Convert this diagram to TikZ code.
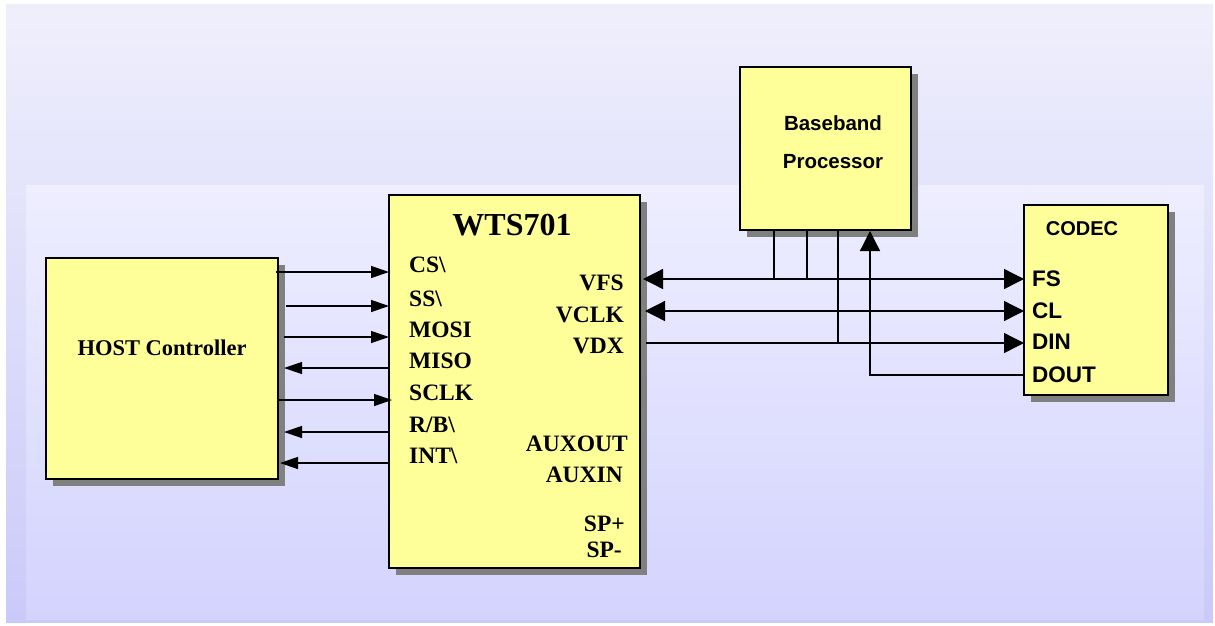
\documentclass[tikz,border=0pt]{standalone}
\usepackage{fontspec}
\setmainfont{Liberation Serif}
\setsansfont{Liberation Sans}
\usetikzlibrary{arrows.meta,shadows}
\definecolor{boxfill}{HTML}{FFFF99}
\definecolor{shadowgray}{HTML}{808080}
\definecolor{bgtop}{HTML}{EFEFFC}
\definecolor{bgbot}{HTML}{CACAFA}
\definecolor{intop}{HTML}{EEEEFF}
\definecolor{inbot}{HTML}{D3D3FE}
\begin{document}
\begin{tikzpicture}[x=1pt,y=-1pt,
  blk/.style={draw=black, line width=2pt, fill=boxfill, inner sep=0pt, outer sep=0pt,
    general shadow={fill=shadowgray, draw=none, shadow xshift=7pt, shadow yshift=-7pt}},
  pinl/.style={anchor=base west, inner sep=0pt, font=\fontsize{23.5}{24}\selectfont\bfseries},
  pinr/.style={anchor=base east, inner sep=0pt, font=\fontsize{23.5}{24}\selectfont\bfseries},
  ttl/.style={anchor=base, inner sep=0pt, font=\fontsize{32}{34}\selectfont\bfseries},
  hostlbl/.style={anchor=base, inner sep=0pt, font=\fontsize{22.5}{24}\selectfont\bfseries},
  sanslbl/.style={anchor=base, inner sep=0pt, font=\sffamily\fontsize{20.5}{22}\selectfont\bfseries},
  codecttl/.style={anchor=base, inner sep=0pt, font=\sffamily\fontsize{20}{22}\selectfont\bfseries},
  codecpin/.style={anchor=base west, inner sep=0pt, font=\sffamily\fontsize{22.5}{24}\selectfont\bfseries},
  ln/.style={line width=1.3pt, draw=black},
  harr/.style={ln, -{Triangle[length=18pt,width=12pt]}},
  barr/.style={ln, -{Triangle[length=20pt,width=20pt]}},
  dbarr/.style={ln, {Triangle[length=20pt,width=20pt]}-{Triangle[length=20pt,width=20pt]}}
]
\useasboundingbox (0,0) rectangle (1215,625);
% backgrounds
\shade[top color=bgtop, bottom color=bgbot] (6,4) rectangle (1213,622);
\shade[top color=intop, bottom color=inbot] (26,185) rectangle (1204,619);

% blocks
\node[blk, minimum width=232pt, minimum height=221pt] (host) at (162,368.5) {};
\node[blk, minimum width=251pt, minimum height=373pt] (wts) at (514.5,381.5) {};
\node[blk, minimum width=171pt, minimum height=163pt] (bb) at (825.5,148.5) {};
\node[blk, minimum width=144pt, minimum height=190pt] (codec) at (1096,300) {};

% block titles
\node[hostlbl] (hostt) at (162,355) {HOST Controller};
\node[ttl] (wtst) at (512,235) {WTS701};
\node[sanslbl] (bbt1) at (833,130) {Baseband};
\node[sanslbl] (bbt2) at (833,168) {Processor};
\node[codecttl] (codect) at (1082,235) {CODEC};

% WTS701 left pins
\node[pinl] (lcs) at (409,272) {CS\textbackslash};
\node[pinl] (lss) at (409,306) {SS\textbackslash};
\node[pinl] (lmosi) at (409,337) {MOSI};
\node[pinl] (lmiso) at (409,368) {MISO};
\node[pinl] (lsclk) at (409,400) {SCLK};
\node[pinl] (lrb) at (409,432) {R/B\textbackslash};
\node[pinl] (lint) at (409,463) {INT\textbackslash};

% WTS701 right pins
\node[pinr] (rvfs) at (624,290) {VFS};
\node[pinr] (rvclk) at (624,322) {VCLK};
\node[pinr] (rvdx) at (624,353) {VDX};
\node[pinr] (raux) at (628,451) {AUXOUT};
\node[pinr] (rauxin) at (623,482) {AUXIN};
\node[pinr] (rspp) at (625,531) {SP+};
\node[pinr] (rspm) at (622,557) {SP-};

% CODEC pins
\node[codecpin] (cfs) at (1032,286) {FS};
\node[codecpin] (ccl) at (1032,318) {CL};
\node[codecpin] (cdin) at (1032,349) {DIN};
\node[codecpin] (cdout) at (1032,382) {DOUT};

% host <-> WTS701
\draw[harr] ([xshift=-2pt]host.east |- lcs.base) -- (wts.west |- lcs.base);
\draw[harr] ([xshift=8pt]host.east |- lss.base) -- (wts.west |- lss.base);
\draw[harr] ([xshift=6pt]host.east |- lmosi.base) -- (wts.west |- lmosi.base);
\draw[harr] (wts.west |- lmiso.base) -- ([xshift=6pt]host.east |- lmiso.base);
\draw[harr] (host.east |- lsclk.base) -- ([xshift=3pt]wts.west |- lsclk.base);
\draw[harr] (wts.west |- lrb.base) -- ([xshift=6pt]host.east |- lrb.base);
\draw[harr] (wts.west |- lint.base) -- ([xshift=2pt]host.east |- lint.base);

% right side rows
\coordinate (yfs) at (0,279);
\coordinate (ycl) at (0,311);
\coordinate (ydx) at (0,343);
\coordinate (ydout) at (0,375);
\coordinate (bx1) at (774,0);
\coordinate (bx2) at (807,0);
\coordinate (bx3) at (838,0);
\coordinate (bx4) at (870,0);

\draw[dbarr] ([xshift=3pt]wts.east |- yfs) -- (codec.west |- yfs);
\draw[dbarr] ([xshift=5pt]wts.east |- ycl) -- (codec.west |- ycl);
\draw[barr] ([xshift=6pt]wts.east |- ydx) -- (codec.west |- ydx);

\draw[ln] (bb.south -| bx1) -- (bx1 |- yfs);
\draw[ln] (bb.south -| bx2) -- (bx2 |- yfs);
\draw[ln] (bb.south -| bx3) -- (bx3 |- ydx) -- ++(-13,0);
\draw[barr] (codec.west |- ydout) -| ([yshift=-1pt]bb.south -| bx4);
\end{tikzpicture}
\end{document}
